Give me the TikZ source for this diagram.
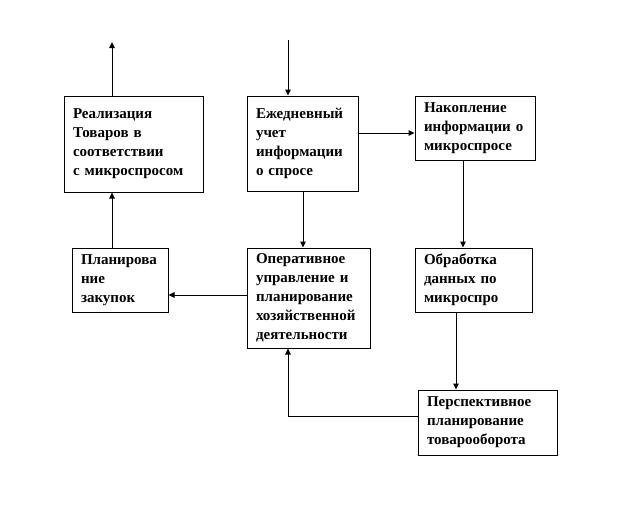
\documentclass[tikz,border=0pt]{standalone}
\usepackage{fontspec}
\setmainfont{Liberation Serif}
\usetikzlibrary{arrows.meta}
\begin{document}
\begin{tikzpicture}[x=1pt,y=-1pt,
  blk/.style={draw,line width=1pt,rectangle,inner xsep=9pt,inner ysep=0pt,
    align=left,font=\fontsize{15}{19}\selectfont\bfseries},
  arr/.style={line width=1pt,-{Triangle[length=6pt,width=5.5pt]}}]
\useasboundingbox (0,0) rectangle (640,504);
\node[blk,minimum width=139pt,minimum height=96pt,text width=121pt] (b1) at (133.5,144)
  {Реализация\\Товаров в\\соответствии\\с микроспросом};
\node[blk,minimum width=111pt,minimum height=95pt,text width=93pt] (b2) at (302.5,143.5)
  {Ежедневный\\учет\\информации\\о спросе};
\node[blk,minimum width=120pt,minimum height=64pt,text width=102pt] (b3) at (475,128)
  {Накопление\\информации о\\микроспросе};
\node[blk,minimum width=96pt,minimum height=64pt,text width=78pt] (b4) at (120,280)
  {Планирова\\ние\\закупок};
\node[blk,minimum width=123pt,minimum height=100pt,text width=105pt] (b5) at (308.5,298)
  {Оперативное\\управление и\\планирование\\хозяйственной\\деятельности};
\node[blk,minimum width=117pt,minimum height=64pt,text width=99pt] (b6) at (473.5,280)
  {Обработка\\данных по\\микроспро};
\node[blk,minimum width=139pt,minimum height=65pt,text width=121pt] (b7) at (487.5,422.5)
  {Перспективное\\планирование\\товарооборота};
\coordinate (t1) at (112,42);
\coordinate (t2) at (288,40);
\coordinate (y3) at (0,133);
\coordinate (x4) at (303,0);
\coordinate (x5) at (463,0);
\coordinate (y6) at (0,295);
\coordinate (x8) at (456,0);
\coordinate (y9) at (0,416);
\coordinate (x9) at (288,0);
\draw[arr] (b1.north -| t1) -- (t1);
\draw[arr] (t2) -- (b2.north -| t2);
\draw[arr] (b2.east |- y3) -- (b3.west |- y3);
\draw[arr] (b2.south -| x4) -- (b5.north -| x4);
\draw[arr] (b3.south -| x5) -- (b6.north -| x5);
\draw[arr] (b5.west |- y6) -- (b4.east |- y6);
\draw[arr] (b4.north -| t1) -- (b1.south -| t1);
\draw[arr] (b6.south -| x8) -- (b7.north -| x8);
\draw[arr] (b7.west |- y9) -| (b5.south -| x9);
\end{tikzpicture}
\end{document}
